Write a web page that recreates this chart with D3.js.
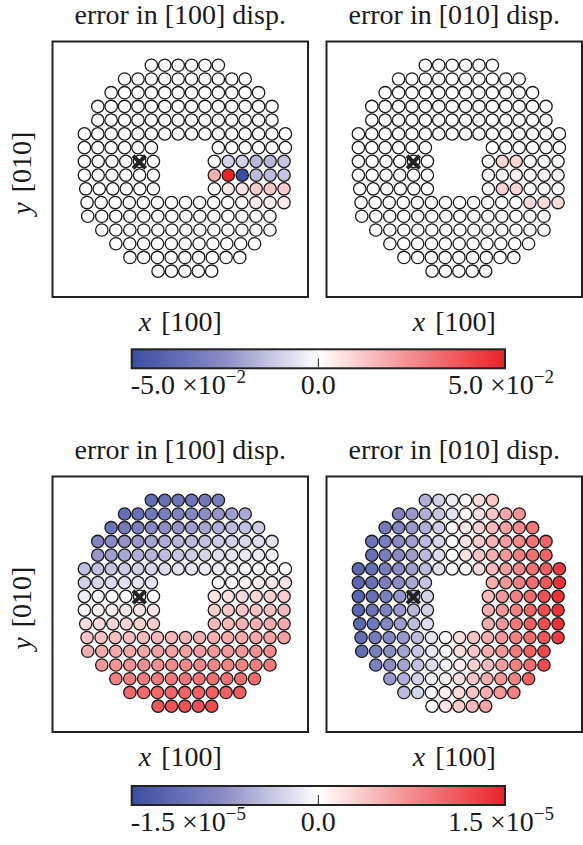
<!DOCTYPE html>
<html>
<head>
<meta charset="utf-8">
<script src="https://cdn.jsdelivr.net/npm/d3@7.9.0/dist/d3.min.js"></script>
<style>
  body { margin: 0; background: #fff; }
  text { font-family: "Liberation Serif", "Times New Roman", serif; fill: #1a1a1a; }
</style>
</head>
<body>
<svg id="fig" width="583" height="845"></svg>
<script>
// lattice rows, top to bottom: segments [firstCol, lastCol, atomCount] in lattice spacings
const rowSegments = [
  [[5, 10, 6]],
  [[3, 12, 10]],
  [[2, 13, 12]],
  [[1, 14, 14]],
  [[1, 14, 14]],
  [[0, 15, 16]],
  [[0, 5, 6], [10, 15, 6]],
  [[0, 5.15, 6], [9.7, 14.9, 6]],
  [[0, 5.15, 6], [9.7, 14.9, 6]],
  [[0.1, 5.15, 6], [9.7, 14.9, 6]],
  [[0.2, 14.9, 15]],
  [[0.25, 13.85, 14]],
  [[1.3, 13.85, 13]],
  [[2.35, 12.7, 11]],
  [[3.4, 11.6, 9]],
  [[5.5, 9.5, 5]]
];

// core marker (lattice units)
const coreCol = 4.1, coreRow = 7.05;

// errors, in % of the colour limit, row by row
const errTopX = [
  [0, 0, 0, 0, 0, 0],
  [0, 0, 0, 0, 0, 0, 0, 0, 0, 0],
  [0, 0, 0, 0, 0, 0, 0, 0, 0, 0, 0, 0],
  [0, 0, 0, 0, 0, 0, 0, 0, 0, 0, 0, 0, 0, 0],
  [0, 0, 0, 0, 0, 0, 0, 0, 0, 0, 0, 0, 0, 0],
  [0, 0, 0, 0, 0, 0, 0, 0, 0, 0, 0, 0, 0, 0, 0, 0],
  [0, 0, 0, 0, 0, 0, 0, 0, 0, 0, 0, 0],
  [0, 0, 0, 0, 0, 0, 0, -20, -20, -32, -32, -25],
  [0, 0, 0, 0, 0, 0, 35, 100, -100, -30, -30, -25],
  [0, 0, 0, 0, 0, 0, 0, 10, 12, 22, 24, 22],
  [0, 0, 0, 0, 0, 0, 0, 0, 0, 0, 0, 0, 8, 8, 8],
  [0, 0, 0, 0, 0, 0, 0, 0, 0, 0, 0, 0, 0, 0],
  [0, 0, 0, 0, 0, 0, 0, 0, 0, 0, 0, 0, 0],
  [0, 0, 0, 0, 0, 0, 0, 0, 0, 0, 0],
  [0, 0, 0, 0, 0, 0, 0, 0, 0],
  [0, 0, 0, 0, 0]
];
const errTopY = [
  [0, 0, 0, 0, 0, 0],
  [0, 0, 0, 0, 0, 0, 0, 0, 0, 0],
  [0, 0, 0, 0, 0, 0, 0, 0, 0, 0, 0, 0],
  [0, 0, 0, 0, 0, 0, 0, 0, 0, 0, 0, 0, 0, 0],
  [0, 0, 0, 0, 0, 0, 0, 0, 0, 0, 0, 0, 0, 0],
  [0, 0, 0, 0, 0, 0, 0, 0, 0, 0, 0, 0, 0, 0, 0, 0],
  [0, 0, 0, 0, 0, 0, 0, 0, 0, 0, 0, 0],
  [0, 0, 0, 0, 0, 0, 0, 18, 18, 0, 2, 0],
  [0, 0, 0, 0, 0, 0, 2, -5, 6, 3, 3, 2],
  [0, 0, 0, 0, 0, 0, 0, 20, 18, 0, 0, 0],
  [0, 0, 0, 0, 0, 0, 0, 0, 0, 0, 0, 0, 17, 17, 15],
  [0, 0, 0, 0, 0, 0, 0, 0, 0, 0, 0, 0, 0, 0],
  [0, 0, 0, 0, 0, 0, 0, 0, 0, 0, 0, 0, 0],
  [0, 0, 0, 0, 0, 0, 0, 0, 0, 0, 0],
  [0, 0, 0, 0, 0, 0, 0, 0, 0],
  [0, 0, 0, 0, 0]
];
const errBotX = [
  [-75, -73, -70, -68, -66, -62],
  [-75, -72, -66, -62, -58, -55, -50, -46, -42, -38],
  [-70, -65, -60, -55, -50, -47, -43, -40, -35, -30, -27, -22],
  [-56, -52, -48, -45, -40, -37, -33, -30, -27, -23, -20, -17, -15, -12],
  [-45, -42, -38, -35, -32, -28, -25, -22, -18, -15, -12, -10, -8, -6],
  [-28, -27, -25, -23, -21, -18, -16, -13, -11, -9, -7, -5, -3, -2, 0, 1],
  [-20, -18, -16, -14, -12, -11, 2, 4, 6, 8, 10, 12],
  [-7, -5, -4, -1, 0, 0, 12, 14, 16, 18, 20, 22],
  [2, 5, 8, 10, 12, 12, 22, 24, 25, 27, 28, 30],
  [15, 16, 18, 19, 20, 22, 30, 31, 33, 35, 36, 38],
  [25, 26, 27, 28, 29, 30, 31, 32, 34, 35, 36, 37, 38, 40, 42],
  [35, 36, 37, 38, 39, 40, 41, 42, 43, 44, 45, 46, 48, 50],
  [45, 46, 47, 48, 49, 50, 51, 52, 53, 54, 55, 56, 58],
  [55, 56, 57, 58, 59, 60, 61, 62, 63, 64, 65],
  [65, 66, 67, 68, 69, 70, 70, 71, 72],
  [75, 76, 77, 78, 80]
];
const errBotY = [
  [-35, -20, -8, 3, 15, 25],
  [-58, -45, -35, -25, -12, 3, 12, 25, 38, 48],
  [-65, -55, -45, -35, -22, -5, 10, 20, 30, 40, 50, 60],
  [-70, -62, -52, -42, -30, -18, -2, 12, 22, 32, 42, 50, 60, 68],
  [-72, -62, -52, -42, -30, -15, 0, 12, 25, 35, 45, 55, 62, 70],
  [-80, -72, -62, -52, -42, -30, -15, -5, 2, 15, 30, 42, 52, 62, 72, 88],
  [-80, -72, -60, -50, -38, -25, 35, 45, 55, 65, 75, 92],
  [-80, -72, -60, -45, -35, -20, 30, 45, 55, 65, 78, 92],
  [-80, -70, -58, -45, -32, -20, 35, 45, 55, 68, 80, 92],
  [-78, -68, -55, -42, -30, -15, 35, 45, 58, 70, 80, 92],
  [-75, -65, -55, -45, -30, -12, 0, 15, 25, 35, 45, 55, 65, 75, 88],
  [-75, -62, -50, -40, -25, -10, 2, 15, 25, 35, 45, 58, 70, 82],
  [-60, -50, -40, -28, -15, -5, 8, 20, 30, 42, 55, 65, 80],
  [-45, -35, -20, -8, 5, 15, 25, 35, 45, 55, 70],
  [-30, -18, -5, 8, 15, 25, 35, 45, 55],
  [0, 12, 22, 30, 40]
];

const panelTitles = ["error in [100] disp.", "error in [010] disp."];
const cbTicks = [-5, 0, 5];
const cbTopLabels = [["-5.0 \u00d710", "\u22122"], ["0.0", ""], ["5.0 \u00d710", "\u22122"]];
const cbBotLabels = [["-1.5 \u00d710", "\u22125"], ["0.0", ""], ["1.5 \u00d710", "\u22125"]];

const svg = d3.select("#fig");
const W = 255.5;
const ink = "#1a1a1a";
const fs = 28;

const xLat = d3.scaleLinear().domain([-2.38, 16.69]).range([0, W]);
const yLat = d3.scaleLinear().domain([-1.73, 16.88]).range([0, W]);
const colour = d3.scaleLinear()
  .domain([-100, -50, 0, 50, 100])
  .range(["#3a4ea2", "#8d8dc6", "#ffffff", "#f38b8d", "#ec2227"]);

// atom positions
const atoms = [];
rowSegments.forEach((segs, r) => {
  segs.forEach(([a, b, n]) => {
    for (let k = 0; k < n; k++) atoms.push({ row: r, col: a + (b - a) * k / (n - 1) });
  });
});

const panels = [
  { x: 52.5, y: 41.5, title: panelTitles[0], vals: errTopX, ylab: true },
  { x: 326.5, y: 41.5, title: panelTitles[1], vals: errTopY, ylab: false },
  { x: 52.5, y: 476.5, title: panelTitles[0], vals: errBotX, ylab: true },
  { x: 326.5, y: 476.5, title: panelTitles[1], vals: errBotY, ylab: false }
];

panels.forEach(p => {
  const g = svg.append("g").attr("transform", `translate(${p.x},${p.y})`);
  const vals = p.vals.flat();

  g.append("rect")
    .attr("width", W).attr("height", W)
    .attr("fill", "none").attr("stroke", "#222").attr("stroke-width", 2);

  g.selectAll("circle")
    .data(atoms)
    .join("circle")
    .attr("cx", d => xLat(d.col))
    .attr("cy", d => yLat(d.row))
    .attr("r", 6.2)
    .attr("fill", (d, i) => colour(vals[i]))
    .attr("stroke", ink)
    .attr("stroke-width", 1.3);

  const cx = xLat(coreCol), cy = yLat(coreRow), h = 6.3;
  g.append("path")
    .attr("d", `M${cx - h},${cy - h}L${cx + h},${cy + h}M${cx - h},${cy + h}L${cx + h},${cy - h}`)
    .attr("stroke", "#222").attr("stroke-width", 4);

  g.append("text")
    .attr("x", W / 2).attr("y", -18)
    .attr("text-anchor", "middle").attr("font-size", fs)
    .text(p.title);

  const xl = g.append("text")
    .attr("x", W / 2).attr("y", 289)
    .attr("text-anchor", "middle").attr("font-size", fs);
  xl.append("tspan").attr("font-style", "italic").text("x");
  xl.append("tspan").attr("dx", 3).text(" [100]");

  if (p.ylab) {
    const yl = g.append("text")
      .attr("transform", `translate(-22,${W / 2 + 4}) rotate(-90)`)
      .attr("text-anchor", "middle").attr("font-size", fs);
    yl.append("tspan").attr("font-style", "italic").text("y");
    yl.append("tspan").attr("dx", 3).text(" [010]");
  }
});

// colour bars
const cbX = d3.scaleLinear().domain([-5, 5]).range([131.7, 505]);
const defs = svg.append("defs");
const grad = defs.append("linearGradient").attr("id", "cbgrad");
d3.range(-100, 101, 10).forEach(v => {
  grad.append("stop").attr("offset", `${(v + 100) / 2}%`).attr("stop-color", colour(v));
});

function colourBar(top, labels) {
  const g = svg.append("g").attr("transform", `translate(0,${top})`);
  const bh = 19;
  g.append("rect")
    .attr("x", cbX(-5)).attr("width", cbX(5) - cbX(-5))
    .attr("height", bh)
    .attr("fill", "url(#cbgrad)").attr("stroke", "#222").attr("stroke-width", 2);
  g.append("line")
    .attr("x1", cbX(0)).attr("x2", cbX(0))
    .attr("y1", bh - 1).attr("y2", bh - 10)
    .attr("stroke", "#222").attr("stroke-width", 1);
  const anchors = ["start", "middle", "middle"];
  const shifts = [-1, 0, -4];
  cbTicks.forEach((t, i) => {
    const tx = g.append("text")
      .attr("x", cbX(t) + shifts[i]).attr("y", 45)
      .attr("text-anchor", anchors[i]).attr("font-size", fs)
      .text(labels[i][0]);
    if (labels[i][1]) {
      tx.append("tspan").attr("dy", -11).attr("font-size", 19).text(labels[i][1]);
    }
  });
}
colourBar(349.3, cbTopLabels);
colourBar(786, cbBotLabels);
</script>
</body>
</html>
